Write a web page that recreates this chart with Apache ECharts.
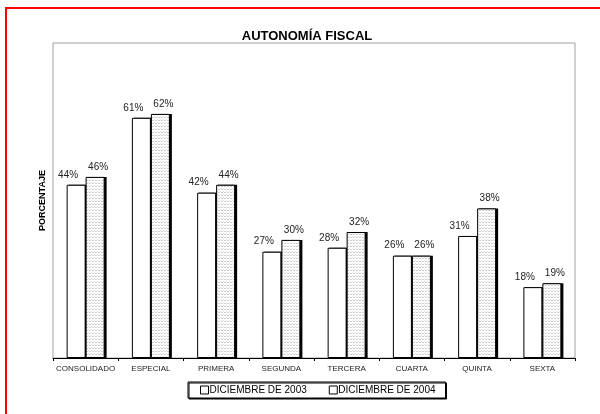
<!DOCTYPE html>
<html>
<head>
<meta charset="utf-8">
<script src="https://cdn.jsdelivr.net/npm/echarts@6/dist/echarts.min.js"></script>
<style>
  html, body { margin: 0; padding: 0; background: #fff; }
  #chart { width: 600px; height: 414px; }
</style>
</head>
<body>
<div id="chart"></div>
<script>
const categories = ["CONSOLIDADO", "ESPECIAL", "PRIMERA", "SEGUNDA", "TERCERA", "CUARTA", "QUINTA", "SEXTA"];
const dic2003 = [44, 61, 42, 27, 28, 26, 31, 18];
const dic2004 = [46, 62, 44, 30, 32, 26, 38, 19];

const FONT = "Liberation Sans, Arial, sans-serif";

// dotted fill used by the 2004 bars
function makePattern() {
  const c = document.createElement("canvas");
  c.width = 3;
  c.height = 3;
  const ctx = c.getContext("2d");
  ctx.fillStyle = "#ffffff";
  ctx.fillRect(0, 0, 3, 3);
  ctx.fillStyle = "#cfcfcf";
  ctx.fillRect(0, 0, 1, 1);
  ctx.fillRect(2, 0, 1, 1);
  ctx.fillStyle = "#e4e4e4";
  ctx.fillRect(1, 2, 1, 1);
  return c;
}

const chart = echarts.init(document.getElementById("chart"));

const barLabel = (dx) => ({
  show: true,
  position: "top",
  distance: 5,
  offset: [dx, 0],
  formatter: "{c}%",
  color: "#222",
  fontFamily: FONT,
  fontSize: 10,
});

// the black drop shadow is a copy of the bars in a grid moved 2px to the right
const shadowBar = (name, data) => ({
  name: name,
  type: "bar",
  xAxisIndex: 1,
  yAxisIndex: 1,
  barWidth: 19,
  barGap: "0%",
  data: data,
  z: 1,
  silent: true,
  itemStyle: { color: "#000" },
});

chart.setOption({
  animation: false,
  backgroundColor: "#fff",
  graphic: [
    {
      type: "rect",
      shape: { x: 6, y: 8, width: 700, height: 500 },
      style: { fill: null, stroke: "#ff0000", lineWidth: 2 },
      silent: true,
    },
  ],
  title: {
    text: "AUTONOMÍA FISCAL",
    left: 302,
    textAlign: "center",
    top: 25,
    textStyle: { fontFamily: FONT, fontSize: 13, fontWeight: "bold", color: "#000" },
  },
  legend: {
    left: 188,
    top: 382,
    padding: [3, 10, 3, 12],
    itemGap: 22,
    itemWidth: 8,
    itemHeight: 8,
    icon: "rect",
    backgroundColor: "#fff",
    borderColor: "#000",
    borderWidth: 1,
    shadowColor: "#000",
    shadowOffsetX: 1,
    shadowOffsetY: 1,
    shadowBlur: 0,
    textStyle: { fontFamily: FONT, fontSize: 10, color: "#000", padding: [0, 0, 0, -4] },
    itemStyle: { color: "#fff", borderColor: "#000", borderWidth: 1 },
    data: ["DICIEMBRE DE 2003", "DICIEMBRE DE 2004"],
  },
  grid: [
    {
      left: 53,
      top: 43,
      right: 25,
      bottom: 56,
      show: true,
      borderColor: "#a0a0a0",
      borderWidth: 1,
    },
    {
      left: 55,
      top: 43,
      right: 23,
      bottom: 56,
    },
  ],
  xAxis: [
    {
      type: "category",
      data: categories,
      axisLine: { lineStyle: { color: "#000", width: 1 } },
      axisTick: { show: true, length: 3, lineStyle: { color: "#000" } },
      axisLabel: { interval: 0, fontFamily: FONT, fontSize: 8, color: "#222", margin: 7 },
      z: 5,
    },
    {
      type: "category",
      gridIndex: 1,
      data: categories,
      show: false,
    },
  ],
  yAxis: [
    {
      type: "value",
      min: 0,
      max: 80,
      name: "PORCENTAJE",
      nameLocation: "middle",
      nameGap: 6,
      nameTextStyle: { fontFamily: FONT, fontSize: 9, fontWeight: "bold", color: "#000" },
      axisLine: { show: false },
      axisTick: { show: false },
      axisLabel: { show: false },
      splitLine: { show: false },
    },
    {
      type: "value",
      gridIndex: 1,
      min: 0,
      max: 80,
      show: false,
      splitLine: { show: false },
    },
  ],
  series: [
    shadowBar("sombra 2003", dic2003),
    shadowBar("sombra 2004", dic2004),
    {
      name: "DICIEMBRE DE 2003",
      type: "bar",
      barWidth: 19,
      barGap: "0%",
      data: dic2003,
      z: 3,
      label: barLabel(-8),
      itemStyle: { color: "#fff", borderColor: "#000", borderWidth: 1 },
    },
    {
      name: "DICIEMBRE DE 2004",
      type: "bar",
      barWidth: 19,
      barGap: "0%",
      data: dic2004,
      z: 3,
      label: barLabel(3),
      itemStyle: {
        color: { image: makePattern(), repeat: "repeat" },
        borderColor: "#000",
        borderWidth: 1,
      },
    },
  ],
});
</script>
</body>
</html>
